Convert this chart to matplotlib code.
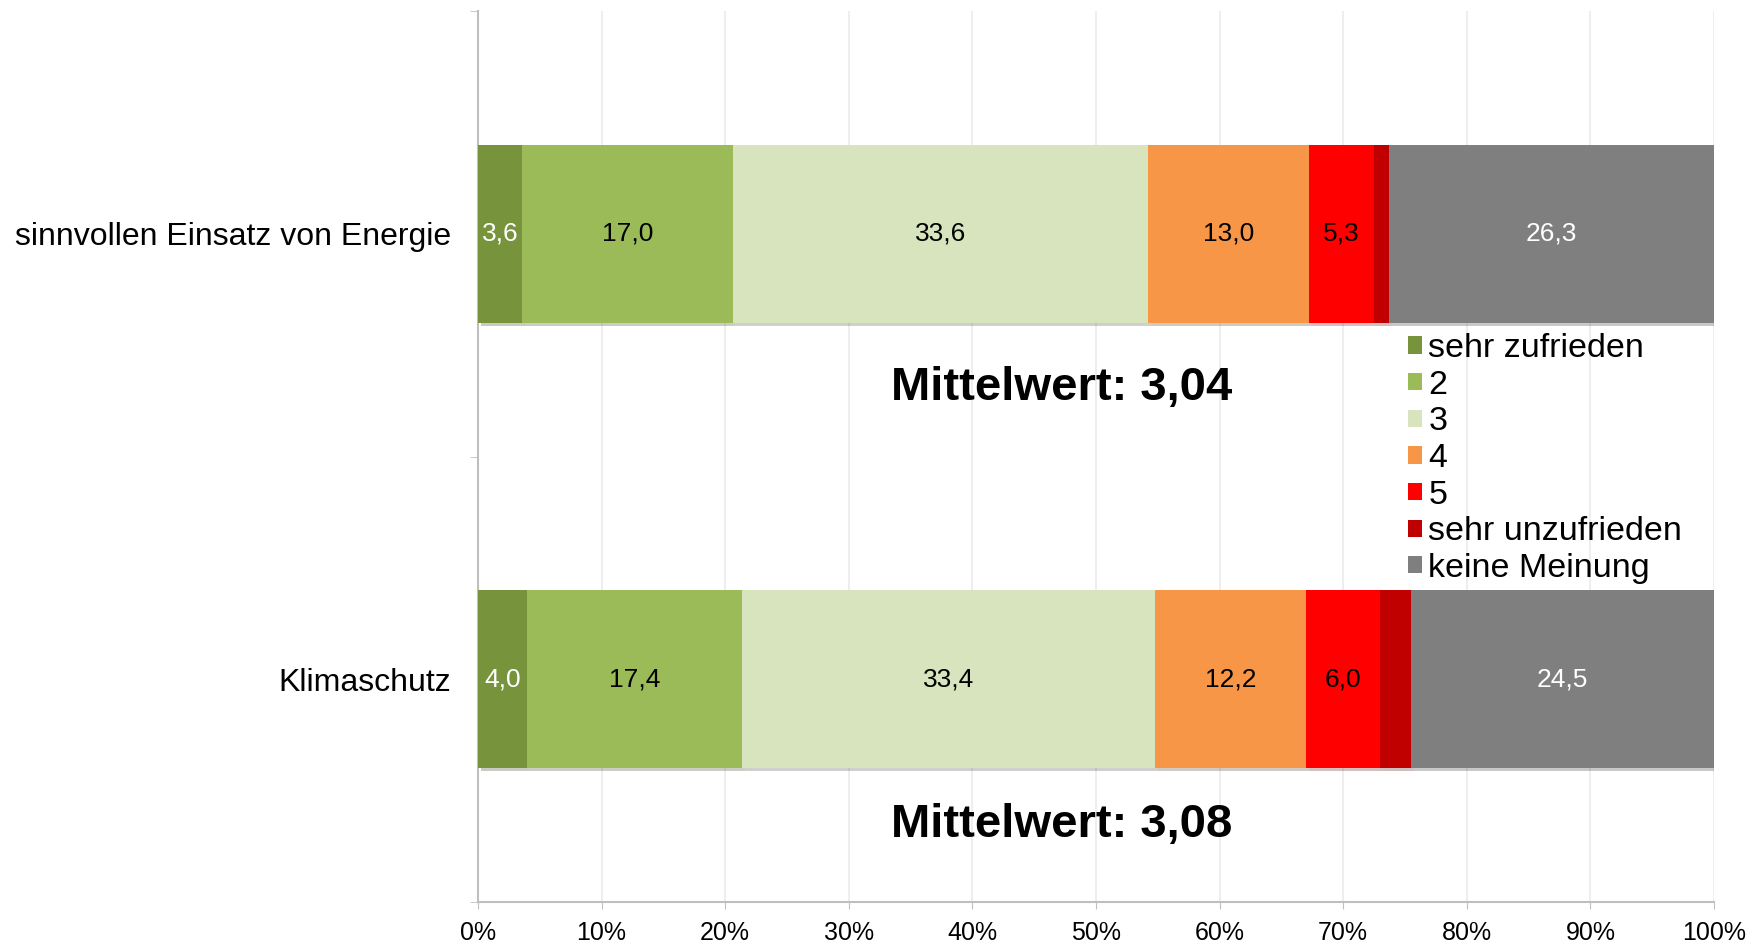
import matplotlib
matplotlib.use('Agg')
import matplotlib.pyplot as plt
import matplotlib.patheffects as pe
from matplotlib.patches import Patch
import numpy as np

plt.rcParams['font.family'] = ['Liberation Sans', 'DejaVu Sans']

# Data
categories = ['Klimaschutz', 'sinnvollen Einsatz von Energie']
series_names = ['sehr zufrieden', '2', '3', '4', '5', 'sehr unzufrieden', 'keine Meinung']
values = {
    'sehr zufrieden':   [4.0, 3.6],
    '2':                [17.4, 17.0],
    '3':                [33.4, 33.6],
    '4':                [12.2, 13.0],
    '5':                [6.0, 5.3],
    'sehr unzufrieden': [2.5, 1.2],
    'keine Meinung':    [24.5, 26.3],
}
means = [3.08, 3.04]
colors = ['#77933C', '#9BBB59', '#D7E4BD', '#F79646', '#FF0000', '#C00000', '#7F7F7F']
label_colors = ['white', 'black', 'black', 'black', 'black', None, 'white']
xticks = np.arange(0, 101, 10)

fig = plt.figure(figsize=(17.61, 9.44), dpi=100)
ax = fig.add_axes([0.2714, 0.0445, 0.7019, 0.9435])

y = np.arange(len(categories))
left = np.zeros(len(categories))
shadow = [pe.SimplePatchShadow(offset=(2, -2), alpha=0.25), pe.Normal()]
for name, col, lcol in zip(series_names, colors, label_colors):
    vals = np.array(values[name])
    bars = ax.barh(y, vals, left=left, height=0.4, color=col, label=name,
                   edgecolor='none', zorder=3)
    for b in bars:
        b.set_path_effects(shadow)
    if lcol is not None:
        for yi, v, l in zip(y, vals, left):
            ax.text(l + v / 2, yi, f'{v:.1f}'.replace('.', ','), ha='center', va='center',
                    fontsize=19, color=lcol, zorder=4)
    left += vals

# Mean annotations below each bar
mean_offsets = [-0.328, -0.345]
for yi, m, off in zip(y, means, mean_offsets):
    ax.text(47.2, yi + off, f'Mittelwert: {m:.2f}'.replace('.', ','),
            ha='center', va='center', fontsize=34, fontweight='bold', zorder=5)

ax.set_xlim(0, 100)
ax.set_ylim(-0.5, 1.5)
ax.set_xticks(xticks)
ax.set_xticklabels([f'{t}%' for t in xticks], fontsize=18)
ax.set_yticks(y)
ax.set_yticklabels(categories, fontsize=23)
ax.set_yticks([-0.5, 0.5, 1.5], minor=True)
ax.tick_params(axis='y', which='major', length=0, pad=19)
ax.tick_params(axis='y', which='minor', length=6, color='#BFBFBF', direction='out')
ax.tick_params(axis='x', length=5, color='#BFBFBF', pad=8.5)

ax.grid(axis='x', color='#EBEBEB', linewidth=1.2, zorder=0)
ax.set_axisbelow(True)
for s in ['top', 'right']:
    ax.spines[s].set_visible(False)
for s in ['left', 'bottom']:
    ax.spines[s].set_color('#BFBFBF')
    ax.spines[s].set_linewidth(1.5)

handles = [Patch(facecolor=c, label=n) for n, c in zip(series_names, colors)]
fig.legend(handles=handles, loc='upper left', bbox_to_anchor=(0.7995, 0.647),
           frameon=False, fontsize=24.5, handlelength=0.4, handleheight=0.4,
           handletextpad=0.2, labelspacing=0.165, borderpad=0, borderaxespad=0)

fig.savefig('out.png', dpi=100)
